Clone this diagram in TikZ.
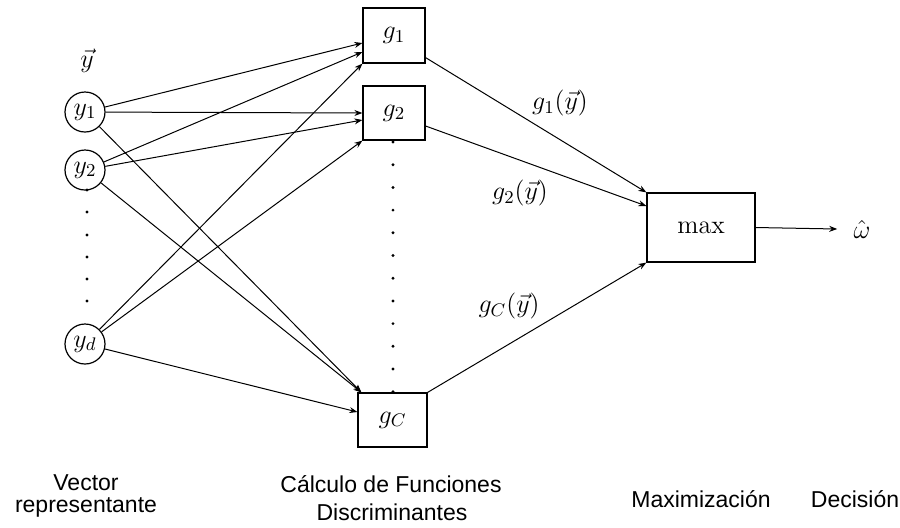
\documentclass[tikz,border=0pt]{standalone}
\usepackage{fix-cm}
\usepackage[no-math]{fontspec}
\newfontfamily\arialfont{Liberation Sans}
\usetikzlibrary{arrows.meta,calc}
\begin{document}
\begin{tikzpicture}[x=0.5pt,y=-0.5pt,
  font=\fontsize{13}{15}\selectfont,
  neuron/.style={draw, circle, minimum size=20pt, inner sep=0pt, line width=0.6pt},
  fbox/.style={draw, rectangle, inner sep=0pt, line width=0.6pt},
  arr/.style={-{Stealth[length=4pt,width=3pt]}, line width=0.5pt},
  dotmark/.style={circle, fill, inner sep=0pt, minimum size=1.6pt},
  sflbl/.style={font=\arialfont\fontsize{11.5}{13}\selectfont, anchor=base, inner sep=0pt}]
\useasboundingbox (0,0) rectangle (900,527);
% input neurons
\node[neuron] (y1) at (85,112) {$y_1$};
\node[neuron] (y2) at (85,170) {$y_2$};
\node[neuron] (yd) at (85,344) {$y_d$};
\node (yv) at (87,61) {$\vec{y}$};
% discriminant boxes
\node[fbox, minimum width=31pt, minimum height=27.5pt] (g1) at (394,35.5) {$g_1$};
\node[fbox, minimum width=31pt, minimum height=27pt] (g2) at (394,113) {$g_2$};
\node[fbox, minimum width=34.5pt, minimum height=27pt] (gC) at (392.5,420) {$g_C$};
\node[fbox, minimum width=54pt, minimum height=34.5pt] (mx) at (701,227.5) {max};
\node[inner sep=0pt] (w) at (862,229) {$\hat{\omega}$};
% input connections
\draw[arr] (y1) -- ([yshift=-3.75pt]g1.west);
\draw[arr] (y2) -- ([yshift=-8.25pt]g1.west);
\draw[arr] (yd) -- (g1.south west);
\draw[arr] (y1) -- (g2.west);
\draw[arr] (y2) -- ([yshift=-3.5pt]g2.west);
\draw[arr] (yd) -- (g2.south west);
\draw[arr] (y1) -- ([xshift=2pt]gC.north west);
\draw[arr] (y2) -- ([xshift=2pt]gC.north west);
\draw[arr] (yd) -- ([yshift=4pt]gC.west);
% outputs
\draw[arr] ([yshift=3pt]g1.south east) -- (mx.north west);
\draw[arr] ([yshift=-6.5pt]g2.east) -- ([yshift=10.75pt]mx.west);
\draw[arr] (gC.north east) -- (mx.south west);
\draw[arr] (mx.east) -- ([xshift=-8pt]w.west);
% labels
\node (l1) at (560,103) {$g_1(\vec{y})$};
\node (l2) at (520,193) {$g_2(\vec{y})$};
\node (lC) at (509,306) {$g_C(\vec{y})$};
% dots
\foreach \yy [count=\i] in {190,212,235,257,279,301}
  \node[dotmark] (ld\i) at (87,\yy) {};
\foreach \i in {0,...,11}
  \node[dotmark] (md\i) at (393,{142+\i*22.7}) {};
% bottom captions
\node[sflbl] (t1a) at (86,490) {Vector};
\node[sflbl] (t1b) at (86,512) {representante};
\node[sflbl] (t2a) at (391,492) {Cálculo de Funciones};
\node[sflbl] (t2b) at (392,520) {Discriminantes};
\node[sflbl] (t3) at (701,507) {Maximización};
\node[sflbl] (t4) at (855,507) {Decisión};
\end{tikzpicture}
\end{document}
